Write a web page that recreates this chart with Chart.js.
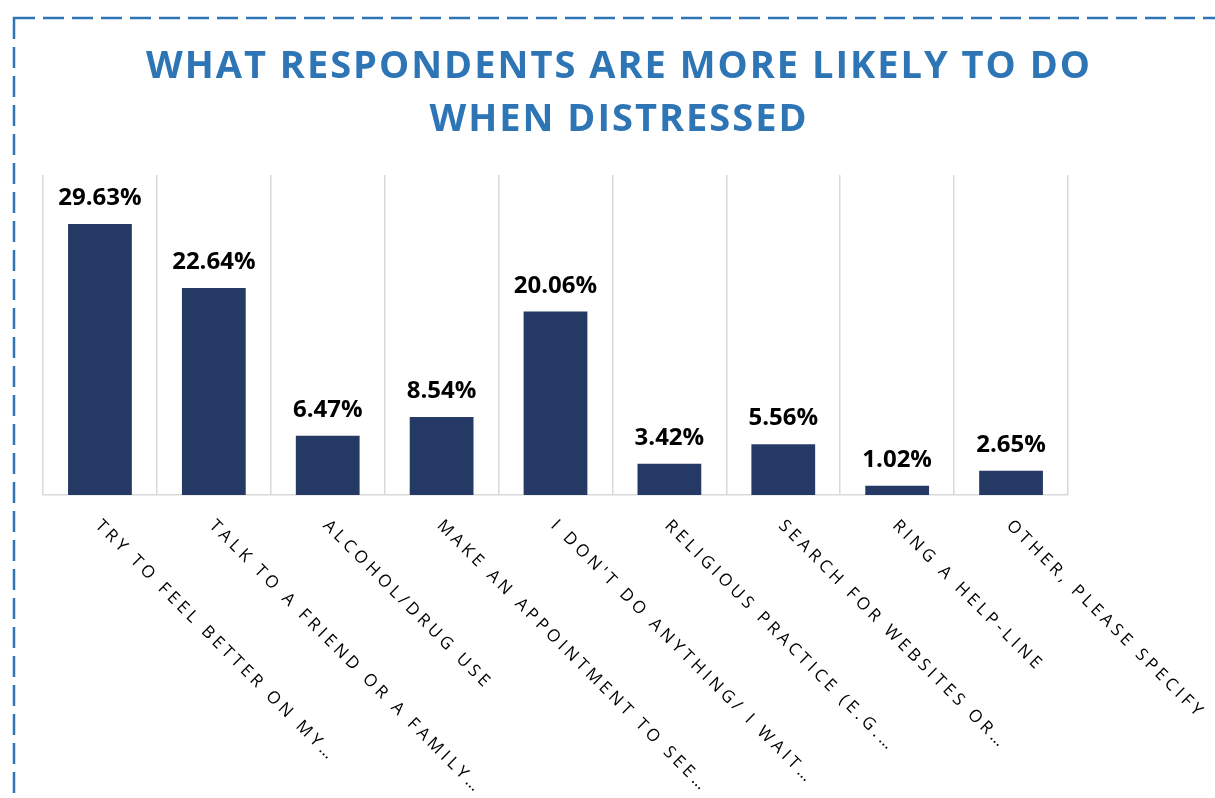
<!DOCTYPE html>
<html>
<head>
<meta charset="utf-8">
<script src="https://cdn.jsdelivr.net/npm/chart.js@4"></script>
<style>
  html, body { margin: 0; padding: 0; background: #fff; }
</style>
</head>
<body>
<canvas id="myChart" width="1215" height="798"></canvas>
<script>
var categories = [
  'TRY TO FEEL BETTER ON MY…',
  'TALK TO A FRIEND OR A FAMILY…',
  'ALCOHOL/DRUG USE',
  'MAKE AN APPOINTMENT TO SEE…',
  "I DON'T DO ANYTHING/ I WAIT…",
  'RELIGIOUS PRACTICE (E.G.…',
  'SEARCH FOR WEBSITES OR…',
  'RING A HELP-LINE',
  'OTHER, PLEASE SPECIFY'
];
var values = [29.63, 22.64, 6.47, 8.54, 20.06, 3.42, 5.56, 1.02, 2.65];
var titleLines = ['WHAT RESPONDENTS ARE MORE LIKELY TO DO', 'WHEN DISTRESSED'];
var yMax = 35;

var blue = '#2e75b6';

// dashed frame + title
var framePlugin = {
  id: 'frame',
  beforeDraw: function (chart) {
    var ctx = chart.ctx;
    ctx.save();
    ctx.strokeStyle = blue;
    ctx.lineWidth = 2.5;
    ctx.setLineDash([21, 8]);
    ctx.strokeRect(14, 18, 1300, 900);
    ctx.setLineDash([]);

    ctx.fillStyle = blue;
    ctx.font = 'bold 38px "Open Sans"';
    ctx.letterSpacing = '2px';
    ctx.textAlign = 'center';
    ctx.textBaseline = 'alphabetic';
    ctx.fillText(titleLines[0], 619, 78);
    ctx.fillText(titleLines[1], 619, 131);
    ctx.restore();
  },
  afterDatasetsDraw: function (chart) {
    var ctx = chart.ctx;
    var meta = chart.getDatasetMeta(0);
    var xScale = chart.scales.x;
    ctx.save();
    // value labels
    ctx.fillStyle = '#000';
    ctx.font = 'bold 24px "Open Sans"';
    ctx.textAlign = 'center';
    ctx.textBaseline = 'alphabetic';
    meta.data.forEach(function (bar, i) {
      ctx.fillText(values[i].toFixed(2) + '%', bar.x, bar.y - 19);
    });
    // rotated category labels
    ctx.font = '17px "Open Sans"';
    ctx.letterSpacing = '4px';
    ctx.textAlign = 'left';
    ctx.textBaseline = 'middle';
    categories.forEach(function (c, i) {
      var x = xScale.getPixelForValue(i);
      ctx.save();
      ctx.translate(x - 2, 523);
      ctx.rotate(Math.PI / 4);
      ctx.fillText(c, 0, 0);
      ctx.restore();
    });
    ctx.restore();
  }
};

var ctx = document.getElementById('myChart');
new Chart(ctx, {
  type: 'bar',
  data: {
    labels: categories,
    datasets: [{
      data: values,
      backgroundColor: '#243a64',
      categoryPercentage: 1,
      barPercentage: 0.56
    }]
  },
  options: {
    responsive: false,
    animation: false,
    layout: { padding: { left: 43, right: 147, top: 175, bottom: 303 } },
    plugins: { legend: { display: false }, tooltip: { enabled: false } },
    scales: {
      x: {
        ticks: { display: false },
        grid: { color: '#d9d9d9', lineWidth: 1.5, drawTicks: false, offset: true },
        border: { color: '#d9d9d9', width: 1.5 }
      },
      y: {
        display: false,
        min: 0,
        max: yMax
      }
    }
  },
  plugins: [framePlugin]
});
</script>
</body>
</html>
